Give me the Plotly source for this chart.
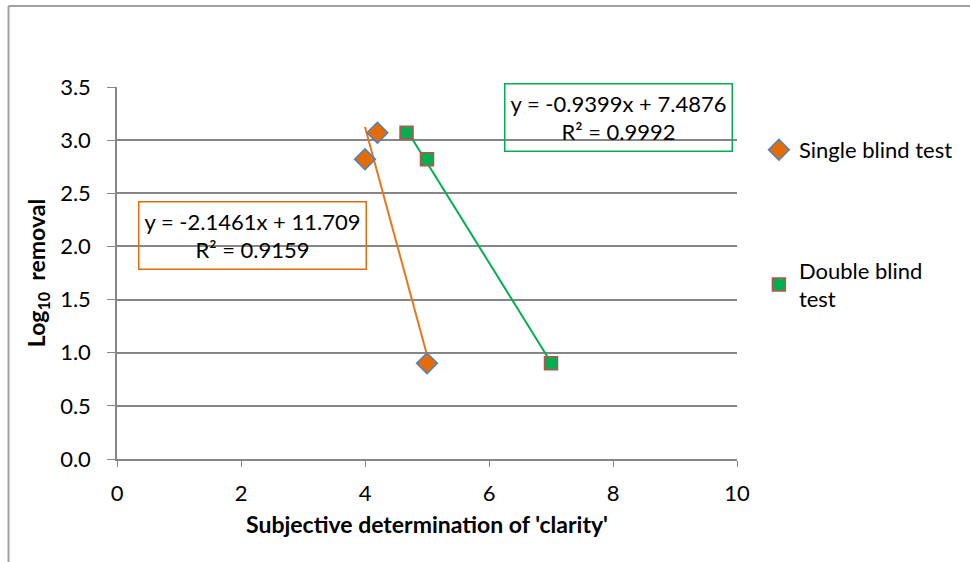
import plotly.graph_objects as go

# Data
single_x = [4.0, 4.2, 5.0]
single_y = [2.82, 3.07, 0.90]
double_x = [4.67, 5.0, 7.0]
double_y = [3.07, 2.82, 0.90]

# Linear trendlines (slope, intercept, R²)
single_fit = (-2.1461, 11.709, 0.9159)
double_fit = (-0.9399, 7.4876, 0.9992)

x_ticks = [0, 2, 4, 6, 8, 10]
y_ticks = [0.0, 0.5, 1.0, 1.5, 2.0, 2.5, 3.0, 3.5]

FONT = "Lato"
W, H = 970, 562
ML, MR, MT, MB = 117, 230, 87, 103


def fit_line(fit, xs):
    m, b, _ = fit
    x0, x1 = min(xs), max(xs)
    return [x0, x1], [m * x0 + b, m * x1 + b]


fig = go.Figure()

sx, sy = fit_line(single_fit, single_x)
dx, dy = fit_line(double_fit, double_x)
fig.add_trace(go.Scatter(x=sx, y=sy, mode="lines", line=dict(color="#E8761E", width=2),
                         showlegend=False, hoverinfo="skip"))
fig.add_trace(go.Scatter(x=dx, y=dy, mode="lines", line=dict(color="#00B050", width=2),
                         showlegend=False, hoverinfo="skip"))

fig.add_trace(go.Scatter(
    x=single_x, y=single_y, mode="markers", name="Single blind test",
    marker=dict(symbol="diamond", size=16, color="#E36C09",
                line=dict(color="#4F81BD", width=1.5)),
    legend="legend"))
fig.add_trace(go.Scatter(
    x=double_x, y=double_y, mode="markers", name="Double blind<br>test",
    marker=dict(symbol="square", size=13, color="#00B050",
                line=dict(color="#C0504D", width=1.5)),
    legend="legend2"))


def eq_text(fit):
    m, b, r2 = fit
    sign = "+" if b >= 0 else "-"
    return f"y = {m:.4f}x {sign} {abs(b):g}<br>R² = {r2:.4f}"


def px_to_paper(px, py):
    return (px - ML) / (W - ML - MR), (H - MB - py) / (H - MT - MB)


ax1, ay1 = px_to_paper(253, 235)
fig.add_annotation(x=ax1, y=ay1, xref="paper", yref="paper", text=eq_text(single_fit),
                   xanchor="center", yanchor="middle",
                   showarrow=False, align="center", bgcolor="rgba(255,255,255,0)",
                   bordercolor="#E36C09", borderwidth=1.5, borderpad=5,
                   font=dict(family=FONT, size=22, color="#000000"))
ax2, ay2 = px_to_paper(621, 117)
fig.add_annotation(x=ax2, y=ay2, xref="paper", yref="paper", text=eq_text(double_fit),
                   xanchor="center", yanchor="middle",
                   showarrow=False, align="center", bgcolor="rgba(255,255,255,0)",
                   bordercolor="#00B050", borderwidth=1.5, borderpad=5,
                   font=dict(family=FONT, size=22, color="#000000"))

# Outer chart frame (top and left edges)
fl, ft = px_to_paper(8, 6)
_, fb = px_to_paper(8, 575)
fr, _ = px_to_paper(975, 6)
fig.add_shape(type="line", xref="paper", yref="paper", x0=fl, x1=fl, y0=fb, y1=ft,
              line=dict(color="#A0A0A0", width=2))
fig.add_shape(type="line", xref="paper", yref="paper", x0=fl, x1=fr, y0=ft, y1=ft,
              line=dict(color="#A0A0A0", width=2))

lx1, ly1 = px_to_paper(762, 150)
lx2, ly2 = px_to_paper(762, 285)
legend_style = dict(font=dict(family=FONT, size=22, color="#000000"),
                    bgcolor="rgba(0,0,0,0)", xref="paper", yref="paper",
                    xanchor="left", yanchor="middle", itemwidth=30)

fig.update_layout(
    width=W, height=H,
    margin=dict(l=ML, r=MR, t=MT, b=MB),
    paper_bgcolor="white", plot_bgcolor="white",
    font=dict(family=FONT, size=22, color="#000000"),
    legend=dict(x=lx1, y=ly1, **legend_style),
    legend2=dict(x=lx2, y=ly2, **legend_style),
    xaxis=dict(range=[0, 10], tickvals=x_ticks, ticktext=[str(v) for v in x_ticks],
               showgrid=False, zeroline=False, showline=True, linecolor="#868686",
               linewidth=1.5, ticks="outside", ticklen=6, tickcolor="#868686",
               ticklabelstandoff=8,
               tickfont=dict(family=FONT, size=22),
               title=dict(text="<b>Subjective determination of 'clarity'</b>",
                          font=dict(family=FONT, size=23), standoff=12)),
    yaxis=dict(range=[0, 3.5], tickvals=y_ticks, ticktext=[f"{v:.1f}" for v in y_ticks],
               showgrid=True, gridcolor="#868686", gridwidth=1.5, zeroline=False,
               showline=True, linecolor="#868686", linewidth=1.5,
               ticks="outside", ticklen=8, tickcolor="#868686",
               ticklabelstandoff=12,
               tickfont=dict(family=FONT, size=22),
               title=dict(text="<b>Log<sub>10</sub>  removal</b>",
                          font=dict(family=FONT, size=23), standoff=8)),
)

fig.write_html("out.html")
